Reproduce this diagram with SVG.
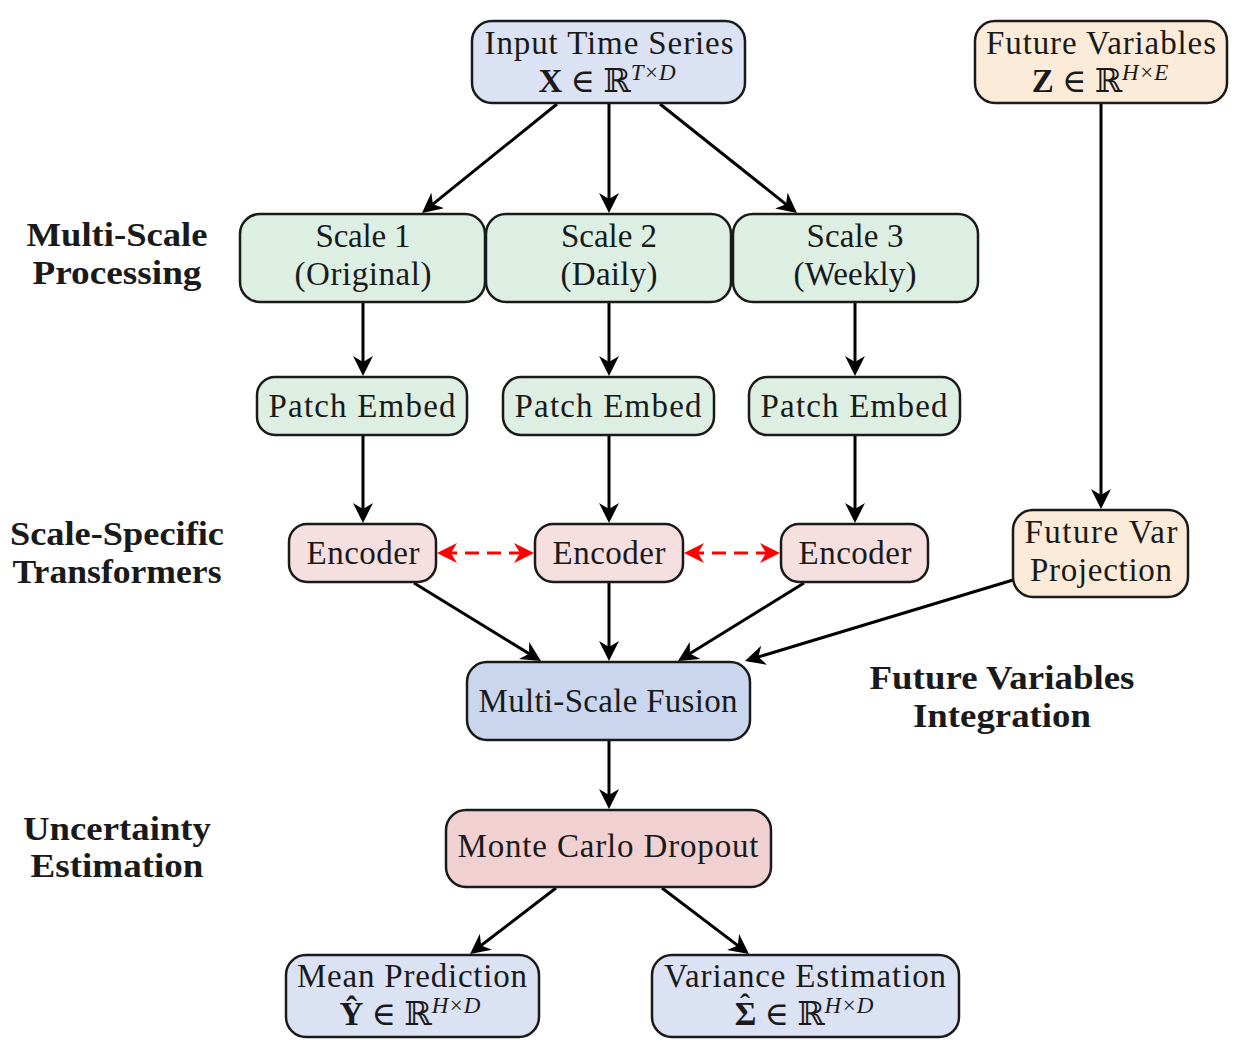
<svg xmlns="http://www.w3.org/2000/svg" width="1238" height="1062" viewBox="0 0 1238 1062">
<style>
text{font-family:"Liberation Serif","DejaVu Serif",serif;fill:#1a1a1a}
.t{font-size:33px;text-anchor:middle}
.m{font-size:33px;text-anchor:middle}
.sup{font-size:23px;font-style:italic}
.hat{font-size:30px;font-weight:bold}
.b{font-size:34px;font-weight:bold;text-anchor:middle}
.box{stroke:#1a1a1a;stroke-width:2.5}
.blue{fill:#dbe2f3}.blue2{fill:#c9d6ee}.green{fill:#dcefe2}.red{fill:#f5dfdf}.red2{fill:#f0d0d0}.orange{fill:#fcebd9}
.c{stroke:#000;stroke-width:3;fill:none;marker-end:url(#ah)}
.d{stroke:#ff0000;stroke-width:3.2;fill:none;stroke-dasharray:14 8;marker-start:url(#ahr);marker-end:url(#ahr)}
</style>
<defs>
<marker id="ah" viewBox="0 -10 20 20" refX="14" refY="0" markerWidth="20" markerHeight="20" markerUnits="userSpaceOnUse" orient="auto-start-reverse"><path d="M20,0 L0,-10 L6,0 L0,10 Z" fill="#000"/></marker>
<marker id="ahr" viewBox="0 -10 20 20" refX="14" refY="0" markerWidth="20" markerHeight="20" markerUnits="userSpaceOnUse" orient="auto-start-reverse"><path d="M20,0 L0,-10 L6,0 L0,10 Z" fill="#ff0000"/></marker>
</defs>
<rect width="1238" height="1062" fill="#fff"/>
<g id="connectors">
<line class="c" x1="557" y1="104" x2="426.7" y2="209.2"/>
<line class="c" x1="609" y1="104" x2="609" y2="207"/>
<line class="c" x1="660" y1="104" x2="792.3" y2="209.3"/>
<line class="c" x1="1101" y1="104" x2="1101" y2="503"/>
<line class="c" x1="363" y1="303" x2="363" y2="370"/>
<line class="c" x1="609" y1="303" x2="609" y2="370"/>
<line class="c" x1="855" y1="303" x2="855" y2="370"/>
<line class="c" x1="363" y1="436" x2="363" y2="517"/>
<line class="c" x1="609" y1="436" x2="609" y2="517"/>
<line class="c" x1="855" y1="436" x2="855" y2="517"/>
<line class="d" x1="443" y1="553" x2="528" y2="553"/>
<line class="d" x1="690" y1="553" x2="774" y2="553"/>
<line class="c" x1="414" y1="583" x2="535.9" y2="657.9"/>
<line class="c" x1="609" y1="583" x2="609" y2="655"/>
<line class="c" x1="804" y1="583" x2="683.1" y2="657.8"/>
<line class="c" x1="1013" y1="580" x2="750.7" y2="659.3"/>
<line class="c" x1="609" y1="741" x2="609" y2="803"/>
<line class="c" x1="556" y1="888" x2="474.8" y2="950.3"/>
<line class="c" x1="662" y1="888" x2="744.2" y2="950.4"/>
</g>
<g id="input">
<rect class="box blue" x="472" y="21" width="273" height="82" rx="20"/>
<text class="t" x="609" y="54" textLength="249" lengthAdjust="spacing">Input Time Series</text>
<text class="m" x="607" y="92"><tspan font-weight="bold">X</tspan> ∈ ℝ<tspan class="sup" dy="-12">T×D</tspan></text>
</g>
<g id="future">
<rect class="box orange" x="975" y="21" width="252" height="82" rx="20"/>
<text class="t" x="1101" y="54" textLength="230" lengthAdjust="spacing">Future Variables</text>
<text class="m" x="1100" y="92"><tspan font-weight="bold">Z</tspan> ∈ ℝ<tspan class="sup" dy="-12">H×E</tspan></text>
</g>
<g id="scale1">
<rect class="box green" x="240" y="214" width="245" height="88" rx="20"/>
<text class="t" x="363" y="247" textLength="95" lengthAdjust="spacing">Scale 1</text>
<text class="t" x="363" y="285" textLength="137" lengthAdjust="spacing">(Original)</text>
</g>
<g id="scale2">
<rect class="box green" x="486" y="214" width="245" height="88" rx="20"/>
<text class="t" x="609" y="247" textLength="96" lengthAdjust="spacing">Scale 2</text>
<text class="t" x="609" y="285" textLength="97" lengthAdjust="spacing">(Daily)</text>
</g>
<g id="scale3">
<rect class="box green" x="733" y="214" width="245" height="88" rx="20"/>
<text class="t" x="855" y="247" textLength="97" lengthAdjust="spacing">Scale 3</text>
<text class="t" x="855" y="285" textLength="123" lengthAdjust="spacing">(Weekly)</text>
</g>
<g id="patch1">
<rect class="box green" x="257" y="377" width="210" height="58" rx="18"/>
<text class="t" x="362" y="417" textLength="187" lengthAdjust="spacing">Patch Embed</text>
</g>
<g id="patch2">
<rect class="box green" x="503" y="377" width="211" height="58" rx="18"/>
<text class="t" x="608" y="417" textLength="187" lengthAdjust="spacing">Patch Embed</text>
</g>
<g id="patch3">
<rect class="box green" x="749" y="377" width="211" height="58" rx="18"/>
<text class="t" x="854" y="417" textLength="187" lengthAdjust="spacing">Patch Embed</text>
</g>
<g id="enc1">
<rect class="box red" x="289" y="524" width="147" height="58" rx="18"/>
<text class="t" x="363" y="564" textLength="113" lengthAdjust="spacing">Encoder</text>
</g>
<g id="enc2">
<rect class="box red" x="535" y="524" width="148" height="58" rx="18"/>
<text class="t" x="609" y="564" textLength="113" lengthAdjust="spacing">Encoder</text>
</g>
<g id="enc3">
<rect class="box red" x="781" y="524" width="147" height="58" rx="18"/>
<text class="t" x="855" y="564" textLength="113" lengthAdjust="spacing">Encoder</text>
</g>
<g id="fvp">
<rect class="box orange" x="1013" y="510" width="175" height="87" rx="20"/>
<text class="t" x="1101" y="543" textLength="153" lengthAdjust="spacing">Future Var</text>
<text class="t" x="1101" y="581" textLength="142" lengthAdjust="spacing">Projection</text>
</g>
<g id="fusion">
<rect class="box blue2" x="467" y="662" width="283" height="78" rx="20"/>
<text class="t" x="608" y="712" textLength="259" lengthAdjust="spacing">Multi-Scale Fusion</text>
</g>
<g id="mc">
<rect class="box red2" x="446" y="810" width="325" height="77" rx="20"/>
<text class="t" x="608" y="857" textLength="301" lengthAdjust="spacing">Monte Carlo Dropout</text>
</g>
<g id="mean">
<rect class="box blue" x="286" y="955" width="253" height="82" rx="20"/>
<text class="t" x="412" y="987" textLength="230" lengthAdjust="spacing">Mean Prediction</text>
<text class="m" x="410" y="1025"><tspan font-weight="bold">Ŷ</tspan> ∈ ℝ<tspan class="sup" dy="-12">H×D</tspan></text>
</g>
<g id="var">
<rect class="box blue" x="652" y="955" width="307" height="82" rx="20"/>
<text class="t" x="805" y="987" textLength="282" lengthAdjust="spacing">Variance Estimation</text>
<text class="m" x="804" y="1025"><tspan font-weight="bold">Σ</tspan> ∈ ℝ<tspan class="sup" dy="-12">H×D</tspan><tspan class="hat" x="745" y="1014">ˆ</tspan></text>
</g>
<g id="labels">
<text class="b" x="117" y="246" textLength="181" lengthAdjust="spacingAndGlyphs">Multi-Scale</text>
<text class="b" x="117" y="284" textLength="169" lengthAdjust="spacingAndGlyphs">Processing</text>
<text class="b" x="117" y="545" textLength="214" lengthAdjust="spacingAndGlyphs">Scale-Specific</text>
<text class="b" x="117" y="583" textLength="209" lengthAdjust="spacingAndGlyphs">Transformers</text>
<text class="b" x="117" y="840" textLength="188" lengthAdjust="spacingAndGlyphs">Uncertainty</text>
<text class="b" x="117" y="877" textLength="173" lengthAdjust="spacingAndGlyphs">Estimation</text>
<text class="b" x="1002" y="689" textLength="265" lengthAdjust="spacingAndGlyphs">Future Variables</text>
<text class="b" x="1002" y="727" textLength="178" lengthAdjust="spacingAndGlyphs">Integration</text>
</g>
</svg>
